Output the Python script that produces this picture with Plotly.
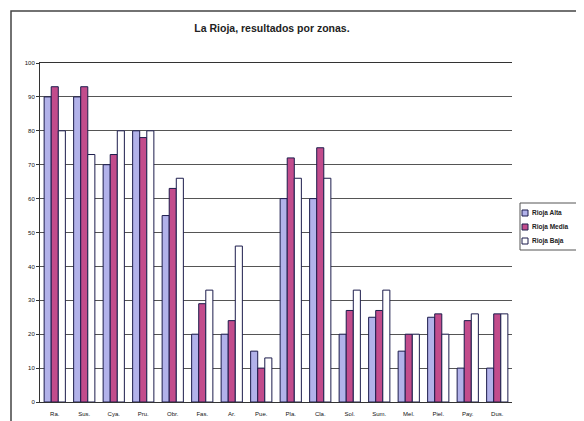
import plotly.graph_objects as go

categories = ["Ra.", "Sus.", "Cya.", "Pru.", "Obr.", "Fas.", "Ar.", "Pue.",
              "Pla.", "Cla.", "Sol.", "Sum.", "Mel.", "Piel.", "Pay.", "Dus."]
series_names = ["Rioja Alta", "Rioja Media", "Rioja Baja"]
alta = [90, 90, 70, 80, 55, 20, 20, 15, 60, 60, 20, 25, 15, 25, 10, 10]
media = [93, 93, 73, 78, 63, 29, 24, 10, 72, 75, 27, 27, 20, 26, 24, 26]
baja = [80, 73, 80, 80, 66, 33, 46, 13, 66, 66, 33, 33, 20, 20, 26, 26]
y_ticks = [0, 10, 20, 30, 40, 50, 60, 70, 80, 90, 100]

colors = ["#b2b2ea", "#c24c8c", "#ffffff"]
outline = "#1c1c4c"

# plot area geometry (page pixels) used to place the hand-drawn legend
PX0, PX1, PY0, PY1 = 40, 512, 63, 402
def px(x):
    return (x - PX0) / (PX1 - PX0)
def py(y):
    return (PY1 - y) / (PY1 - PY0)

fig = go.Figure()
for name, vals, col in zip(series_names, [alta, media, baja], colors):
    fig.add_trace(go.Bar(
        x=categories, y=vals, name=name,
        marker=dict(color=col, line=dict(color=outline, width=1)),
        showlegend=False,
    ))

fig.update_layout(
    width=584, height=421,
    margin=dict(l=32, r=80, t=55, b=27, autoexpand=False),
    paper_bgcolor="white", plot_bgcolor="white",
    barmode="group", bargap=0.28, bargroupgap=0,
    title=dict(text="<b>La Rioja, resultados por zonas.</b>", x=0.452, xanchor="center",
               y=0.952, yanchor="middle",
               font=dict(family="Arial, Liberation Sans", size=10.5, color="#222")),
    font=dict(family="Arial, Liberation Sans", size=6, color="#111"),
)
fig.update_yaxes(range=[0, 100], tickvals=y_ticks, showgrid=True,
                 gridcolor="#555555", gridwidth=1, showline=True,
                 linecolor="#333", linewidth=1, ticks="outside", ticklen=3,
                 tickcolor="#333", zeroline=False,
                 tickfont=dict(size=6, family="Arial Black, Liberation Sans"))
fig.update_xaxes(showline=True, linecolor="#333", linewidth=1, ticks="",
                 mirror=True, ticklabelstandoff=6,
                 tickfont=dict(size=6, family="Arial Black, Liberation Sans"))

# outer chart border
fig.add_shape(type="rect", xref="paper", yref="paper",
              x0=px(11), x1=px(600), y0=py(440), y1=py(11),
              line=dict(color="#444", width=1.5), fillcolor="rgba(0,0,0,0)",
              layer="below")

# legend box
fig.add_shape(type="rect", xref="paper", yref="paper",
              x0=px(520), x1=px(600), y0=py(250), y1=py(203),
              line=dict(color="#555", width=1), fillcolor="white")
for i, (name, col) in enumerate(zip(series_names, colors)):
    yc = 213 + 14 * i
    fig.add_shape(type="rect", xref="paper", yref="paper",
                  x0=px(522), x1=px(528), y0=py(yc + 3), y1=py(yc - 3),
                  line=dict(color=outline, width=1), fillcolor=col)
    fig.add_annotation(x=px(530), y=py(yc), xref="paper", yref="paper",
                       text="<b>" + name + "</b>", showarrow=False,
                       xanchor="left", yanchor="middle",
                       font=dict(size=6.5, color="#222",
                                 family="Arial, Liberation Sans"))

fig.write_html("out.html")
